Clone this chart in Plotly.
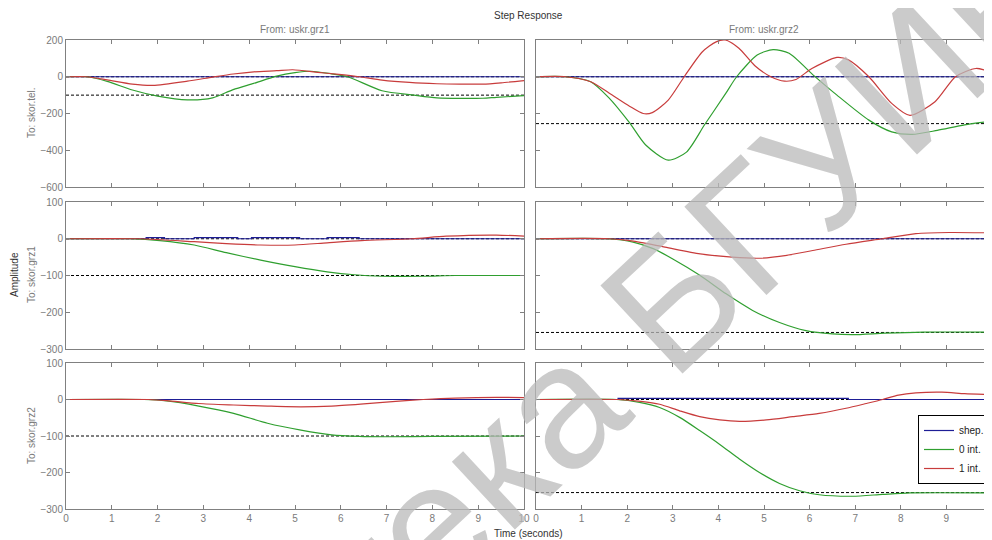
import plotly.graph_objects as go

# ---------------- data ----------------
TIME_TICKS = list(range(0, 11))
ROW_LABELS = ["To: skor.tel.", "To: skor.grz1", "To: skor.grz2"]
COL_LABELS = ["From: uskr.grz1", "From: uskr.grz2"]
SERIES_NAMES = ["shep.", "0 int.", "1 int."]
Y_RANGES = [[-600, 200], [-300, 100], [-300, 100]]
Y_TICKS = [[-600, -400, -200, 0, 200], [-300, -200, -100, 0, 100], [-300, -200, -100, 0, 100]]

# final (steady-state) values drawn as dashed lines, per panel (row, col)
FINAL_11 = [0, -100]
FINAL_12 = [0, -255]
FINAL_21 = [0, -100]
FINAL_22 = [0, -255]
FINAL_31 = [0, -100]
FINAL_32 = [0, -255]

# panel (1,1): skor.tel. <- uskr.grz1
t11_shep = [0, 10]
y11_shep = [0, 0]
t11_g = [0, 0.45, 0.9, 1.45, 2.0, 2.65, 3.2, 3.65, 4.1, 4.6, 5.0, 5.35, 5.8, 6.15, 6.9, 7.6, 8.1, 8.6, 9.1, 9.4, 10]
y11_g = [0, 0, -25, -72, -105, -126, -115, -70, -36, 3, 22, 30, 16, 0, -76, -100, -115, -118, -117, -112, -103]
t11_r = [0, 0.45, 0.9, 1.45, 1.9, 2.65, 3.2, 3.65, 4.1, 4.6, 4.95, 5.5, 5.9, 6.4, 6.9, 7.5, 8.1, 8.6, 9.1, 9.5, 10]
y11_r = [0, 0, -17, -40, -47, -24, -2, 15, 27, 33, 38, 24, 14, 0, -18, -31, -38, -40, -40, -33, -21]

# panel (1,2): skor.tel. <- uskr.grz2
t12_shep = [0, 10]
y12_shep = [0, 0]
t12_g = [0, 0.65, 1.2, 1.6, 2.05, 2.4, 2.9, 3.3, 3.7, 4.15, 4.4, 4.85, 5.2, 5.55, 6.1, 6.6, 7.3, 7.8, 8.25, 8.8, 9.4, 10]
y12_g = [0, 0, -27, -115, -250, -370, -454, -410, -260, -95, 0, 118, 148, 128, 5, -100, -236, -300, -314, -292, -262, -242]
t12_r = [0, 0.65, 1.2, 1.6, 2.05, 2.35, 2.55, 2.9, 3.25, 3.65, 3.95, 4.15, 4.45, 4.8, 5.15, 5.45, 5.7, 6.05, 6.6, 6.85, 7.3, 7.8, 8.2, 8.75, 9.2, 9.65, 10]
y12_r = [0, 0, -27, -88, -160, -200, -195, -127, 0, 136, 190, 200, 155, 60, 0, -24, -15, 45, 105, 92, 0, -145, -210, -136, 0, 45, 22]

# panel (2,1): skor.grz1 <- uskr.grz1
t21_shep = [0, 1.75, 1.75, 2.15, 2.15, 2.8, 2.8, 3.75, 3.75, 4.05, 4.05, 5.1, 5.1, 5.7, 5.7, 6.4, 6.4, 10]
y21_shep = [0, 0, 3, 3, 0, 0, 3, 3, 0, 0, 3, 3, 0, 0, 3, 3, 0, 0]
t21_g = [0, 1.4, 2.05, 2.8, 3.5, 4.25, 5.0, 5.7, 6.3, 6.9, 7.8, 8.5, 10]
y21_g = [0, 0, -5, -17, -38, -58, -76, -90, -98, -102, -102, -100, -100]
t21_r = [0, 1.6, 2.8, 3.5, 4.25, 5.0, 5.7, 6.45, 7.55, 8.3, 9.4, 10]
y21_r = [0, 0, -8, -13, -17, -17, -11, -5, 0, 7, 10, 7]

# panel (2,2): skor.grz1 <- uskr.grz2
t22_shep = [0, 0.8, 0.8, 7.6, 7.6, 10]
y22_shep = [0, 0, 2, 2, 0, 0]
t22_g = [0, 1.55, 2.13, 2.57, 3.0, 3.6, 4.17, 4.75, 5.34, 5.92, 6.5, 6.95, 7.65, 8.5, 10]
y22_g = [0, 0, -9, -27, -55, -100, -150, -195, -228, -250, -259, -261, -257, -254, -254]
t22_r = [0, 1.6, 2.1, 2.83, 3.6, 4.3, 4.9, 5.5, 6.07, 6.8, 7.6, 8.33, 9.06, 10]
y22_r = [0, 0, -6, -23, -41, -50, -53, -45, -32, -15, 0, 14, 17, 16]

# panel (3,1): skor.grz2 <- uskr.grz1
t31_shep = [0, 10]
y31_shep = [0, 0]
t31_g = [0, 1.7, 2.2, 2.9, 3.66, 4.4, 5.13, 5.8, 6.4, 7.0, 8.0, 10]
y31_g = [0, 0, -4, -18, -38, -65, -84, -97, -101, -102, -101, -100]
t31_r = [0, 1.8, 2.2, 2.9, 3.66, 4.4, 5.13, 5.8, 6.5, 7.2, 7.8, 8.5, 9.4, 10]
y31_r = [0, 0, -3, -11, -15, -18, -20, -18, -12, -5, 0, 4, 6, 5]

# panel (3,2): skor.grz2 <- uskr.grz2
t32_shep = [0, 1.8, 1.8, 6.85, 6.85, 10]
y32_shep = [0, 0, 3, 3, 0, 0]
t32_g = [0, 1.77, 2.27, 2.71, 3.15, 3.59, 4.03, 4.46, 4.9, 5.34, 5.78, 6.21, 6.94, 7.6, 8.2, 10]
y32_g = [0, 0, -8, -22, -49, -85, -123, -163, -200, -230, -250, -261, -265, -260, -256, -256]
t32_r = [0, 1.8, 2.3, 2.71, 3.15, 3.59, 4.03, 4.46, 5.05, 5.63, 6.21, 6.8, 7.24, 7.6, 7.95, 8.33, 8.9, 9.4, 10]
y32_r = [0, 0, -5, -13, -31, -47, -56, -60, -56, -47, -38, -24, -11, 0, 12, 18, 20, 16, 13]

WATERMARK = "Библиотека БГУИР"

PANELS = {
    (1, 1): (FINAL_11, t11_shep, y11_shep, t11_g, y11_g, t11_r, y11_r),
    (1, 2): (FINAL_12, t12_shep, y12_shep, t12_g, y12_g, t12_r, y12_r),
    (2, 1): (FINAL_21, t21_shep, y21_shep, t21_g, y21_g, t21_r, y21_r),
    (2, 2): (FINAL_22, t22_shep, y22_shep, t22_g, y22_g, t22_r, y22_r),
    (3, 1): (FINAL_31, t31_shep, y31_shep, t31_g, y31_g, t31_r, y31_r),
    (3, 2): (FINAL_32, t32_shep, y32_shep, t32_g, y32_g, t32_r, y32_r),
}

# ---------------- style ----------------
# the page body has an 8px margin, so the figure is sized to fit the 992x540 window
OFF = 8
W, H = 992 - OFF, 540 - OFF


def fx(px):  # screen pixel x -> paper fraction
    return (px - OFF) / W


def fy(py):  # screen pixel y -> paper fraction
    return 1 - (py - OFF) / H


COLORS = ["#1e1e96", "#2f9f2f", "#c83c3c"]
FRAME = "#808080"
FONT = "Liberation Sans, Arial, sans-serif"
X_DOM = [[fx(66), fx(524)], [fx(536), 1.0]]
Y_DOM = [[fy(187), fy(40)], [fy(349), fy(202)], [fy(509), fy(363)]]

fig = go.Figure()
layout = {}

for (r, c), (finals, ts, ys, tg, yg, tr, yr) in PANELS.items():
    k = (r - 1) * 2 + c
    xa = "x" if k == 1 else f"x{k}"
    ya = "y" if k == 1 else f"y{k}"
    for fv in finals:
        fig.add_trace(go.Scatter(x=[0, 10], y=[fv, fv], mode="lines", xaxis=xa, yaxis=ya,
                                 line=dict(color="black", width=1, dash="3px,2px"),
                                 showlegend=False, hoverinfo="skip"))
    series = [(ts, ys, "linear"), (tg, yg, "spline"), (tr, yr, "spline")]
    for i, (tt, vv, shp) in enumerate(series):
        fig.add_trace(go.Scatter(x=tt, y=vv, mode="lines", xaxis=xa, yaxis=ya,
                                 name=SERIES_NAMES[i], legendgroup=SERIES_NAMES[i],
                                 showlegend=(k == 1),
                                 line=dict(color=COLORS[i], width=1.2, shape=shp, smoothing=0.7)))
    common = dict(showline=True, linecolor=FRAME, linewidth=1, mirror="allticks",
                  ticks="inside", ticklen=4, tickcolor=FRAME, showgrid=False, zeroline=False,
                  automargin=False, ticklabeloverflow="allow",
                  tickfont=dict(family=FONT, size=10, color="#7a7a7a"))
    layout["xaxis" if k == 1 else f"xaxis{k}"] = dict(
        common, domain=X_DOM[c - 1], anchor=ya, range=[0, 10], tickvals=TIME_TICKS,
        showticklabels=(r == 3))
    layout["yaxis" if k == 1 else f"yaxis{k}"] = dict(
        common, domain=Y_DOM[r - 1], anchor=xa, range=Y_RANGES[r - 1], tickvals=Y_TICKS[r - 1],
        showticklabels=(c == 1))

ann = []


def add_text(txt, px, py, size=10, color="#7a7a7a", angle=0):
    ann.append(dict(text=txt, x=fx(px), y=fy(py), xref="paper", yref="paper",
                    showarrow=False, xanchor="center", yanchor="middle", textangle=angle,
                    font=dict(family=FONT, size=size, color=color)))


add_text("Step Response", 528, 15, color="#333333")
add_text(COL_LABELS[0], 295, 29)
add_text(COL_LABELS[1], 764, 29)
add_text("Time (seconds)", 528, 533, color="#333333")
add_text("Amplitude", 14, 275, color="#333333", angle=-90)
add_text(ROW_LABELS[0], 31, 113, angle=-90)
add_text(ROW_LABELS[1], 31, 275, angle=-90)
add_text(ROW_LABELS[2], 31, 436, angle=-90)

# watermark
ann.append(dict(text=WATERMARK, x=fx(470), y=fy(488), xref="paper", yref="paper",
                showarrow=False, xanchor="center", yanchor="middle", textangle=-43,
                font=dict(family=FONT, size=175, color="rgba(185,185,185,0.75)")))

fig.update_layout(
    width=W, height=H, margin=dict(l=0, r=0, t=0, b=0, autoexpand=False),
    paper_bgcolor="white", plot_bgcolor="white",
    annotations=ann,
    legend=dict(x=fx(990), xanchor="right", y=fy(415), yanchor="top",
                bordercolor="black", borderwidth=1, bgcolor="white",
                font=dict(family=FONT, size=10, color="#222222"), itemwidth=30,
                tracegroupgap=0),
    **layout,
)

fig.write_html("out.html")
